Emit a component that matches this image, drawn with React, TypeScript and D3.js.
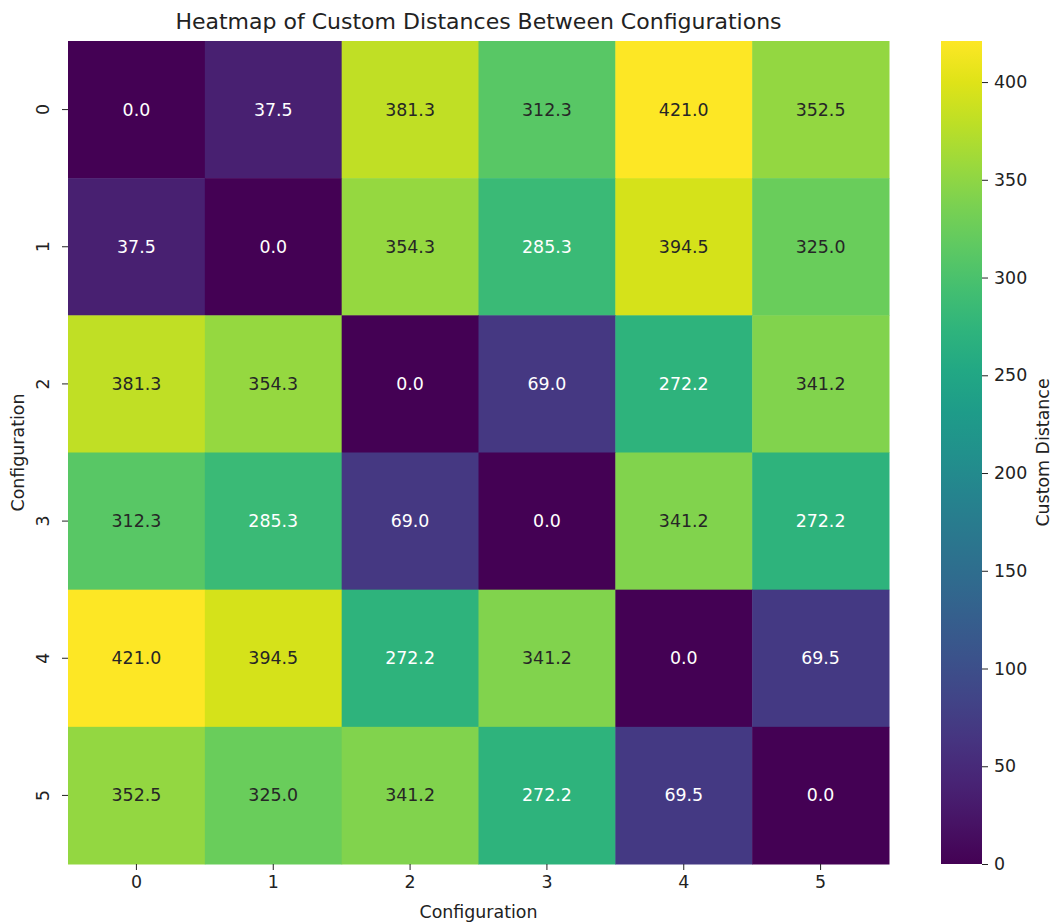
import React, { useEffect, useRef } from 'react';
import * as d3 from 'd3';

const WIDTH = 1056;
const HEIGHT = 922;
const MAP = { left: 68, top: 41, right: 889, bottom: 864 };
const BAR = { left: 941, right: 982 };

const configs = ['0', '1', '2', '3', '4', '5'];
const row0 = [0.0, 37.5, 381.3, 312.3, 421.0, 352.5];
const row1 = [37.5, 0.0, 354.3, 285.3, 394.5, 325.0];
const row2 = [381.3, 354.3, 0.0, 69.0, 272.2, 341.2];
const row3 = [312.3, 285.3, 69.0, 0.0, 341.2, 272.2];
const row4 = [421.0, 394.5, 272.2, 341.2, 0.0, 69.5];
const row5 = [352.5, 325.0, 341.2, 272.2, 69.5, 0.0];
const distances = [row0, row1, row2, row3, row4, row5];
const barTicks = [0, 50, 100, 150, 200, 250, 300, 350, 400];

const FONT = '"DejaVu Sans", sans-serif';
const FS = 17.4;

function luminance(c: string) {
    const rgb = d3.rgb(c);
    const lin = (v: number) => {
        const s = v / 255;
        return s <= 0.03928 ? s / 12.92 : Math.pow((s + 0.055) / 1.055, 2.4);
    };
    return 0.2126 * lin(rgb.r) + 0.7152 * lin(rgb.g) + 0.0722 * lin(rgb.b);
}

export default function App() {
    const svgRef = useRef<SVGSVGElement | null>(null);

    useEffect(() => {
        const svg = d3.select(svgRef.current);
        svg.selectAll('*').remove();

        const vmax = d3.max(distances.flat()) as number;
        const color = d3.scaleSequential(d3.interpolateViridis).domain([0, vmax]);

        const x = d3.scaleBand().domain(configs).range([MAP.left, MAP.right]);
        const y = d3.scaleBand().domain(configs).range([MAP.top, MAP.bottom]);

        const cells = distances.flatMap((row, i) =>
            row.map((v, j) => ({ r: configs[i], c: configs[j], v }))
        );

        const g = svg.append('g');
        g.selectAll('rect')
            .data(cells)
            .join('rect')
            .attr('x', (d) => x(d.c)!)
            .attr('y', (d) => y(d.r)!)
            .attr('width', x.bandwidth() + 0.5)
            .attr('height', y.bandwidth() + 0.5)
            .attr('fill', (d) => color(d.v));

        g.selectAll('text')
            .data(cells)
            .join('text')
            .attr('x', (d) => x(d.c)! + x.bandwidth() / 2)
            .attr('y', (d) => y(d.r)! + y.bandwidth() / 2)
            .attr('text-anchor', 'middle')
            .attr('dominant-baseline', 'central')
            .attr('font-family', FONT)
            .attr('font-size', FS)
            .attr('fill', (d) => (luminance(color(d.v)) > 0.408 ? '#262626' : '#ffffff'))
            .text((d) => d.v.toFixed(1));

        const xAxis = svg
            .append('g')
            .attr('transform', `translate(0,${MAP.bottom})`)
            .call(d3.axisBottom(x).tickSize(6).tickPadding(6));
        const yAxis = svg
            .append('g')
            .attr('transform', `translate(${MAP.left},0)`)
            .call(d3.axisLeft(y).tickSize(6).tickPadding(6));
        [xAxis, yAxis].forEach((a) => {
            a.select('.domain').remove();
            a.selectAll('line').attr('stroke', '#222').attr('stroke-width', 1);
            a.selectAll('text')
                .attr('font-family', FONT)
                .attr('font-size', FS)
                .attr('fill', '#222');
        });
        yAxis
            .selectAll('text')
            .attr('transform', 'rotate(-90, -25, 0)')
            .attr('x', -25)
            .attr('dy', '0')
            .attr('text-anchor', 'middle')
            .attr('dominant-baseline', 'central');

        // colorbar
        const yBar = d3.scaleLinear().domain([0, vmax]).range([MAP.bottom, MAP.top]);
        const defs = svg.append('defs');
        const grad = defs
            .append('linearGradient')
            .attr('id', 'cbar')
            .attr('x1', 0)
            .attr('y1', 1)
            .attr('x2', 0)
            .attr('y2', 0);
        d3.range(0, 1.0001, 0.05).forEach((t) => {
            grad.append('stop')
                .attr('offset', t)
                .attr('stop-color', color(t * vmax));
        });
        svg.append('rect')
            .attr('x', BAR.left)
            .attr('y', MAP.top)
            .attr('width', BAR.right - BAR.left)
            .attr('height', MAP.bottom - MAP.top)
            .attr('fill', 'url(#cbar)');
        const barAxis = svg
            .append('g')
            .attr('transform', `translate(${BAR.right},0)`)
            .call(d3.axisRight(yBar).tickValues(barTicks).tickSize(6).tickPadding(6).tickFormat(d3.format('d')));
        barAxis.select('.domain').remove();
        barAxis.selectAll('line').attr('stroke', '#222');
        barAxis.selectAll('text').attr('font-family', FONT).attr('font-size', FS).attr('fill', '#222');

        // labels
        svg.append('text')
            .attr('x', (MAP.left + MAP.right) / 2)
            .attr('y', 29)
            .attr('text-anchor', 'middle')
            .attr('font-family', FONT)
            .attr('font-size', 22)
            .attr('fill', '#222')
            .text('Heatmap of Custom Distances Between Configurations');
        svg.append('text')
            .attr('x', (MAP.left + MAP.right) / 2)
            .attr('y', 918)
            .attr('text-anchor', 'middle')
            .attr('font-family', FONT)
            .attr('font-size', FS)
            .attr('fill', '#222')
            .text('Configuration');
        svg.append('text')
            .attr('transform', `translate(24,${(MAP.top + MAP.bottom) / 2}) rotate(-90)`)
            .attr('text-anchor', 'middle')
            .attr('font-family', FONT)
            .attr('font-size', FS)
            .attr('fill', '#222')
            .text('Configuration');
        svg.append('text')
            .attr('transform', `translate(1049,${(MAP.top + MAP.bottom) / 2}) rotate(-90)`)
            .attr('text-anchor', 'middle')
            .attr('font-family', FONT)
            .attr('font-size', FS)
            .attr('fill', '#222')
            .text('Custom Distance');
    }, []);

    return (
        <svg
            ref={svgRef}
            width={WIDTH}
            height={HEIGHT}
            style={{ position: 'absolute', left: 0, top: 0, background: '#fff' }}
        />
    );
}
